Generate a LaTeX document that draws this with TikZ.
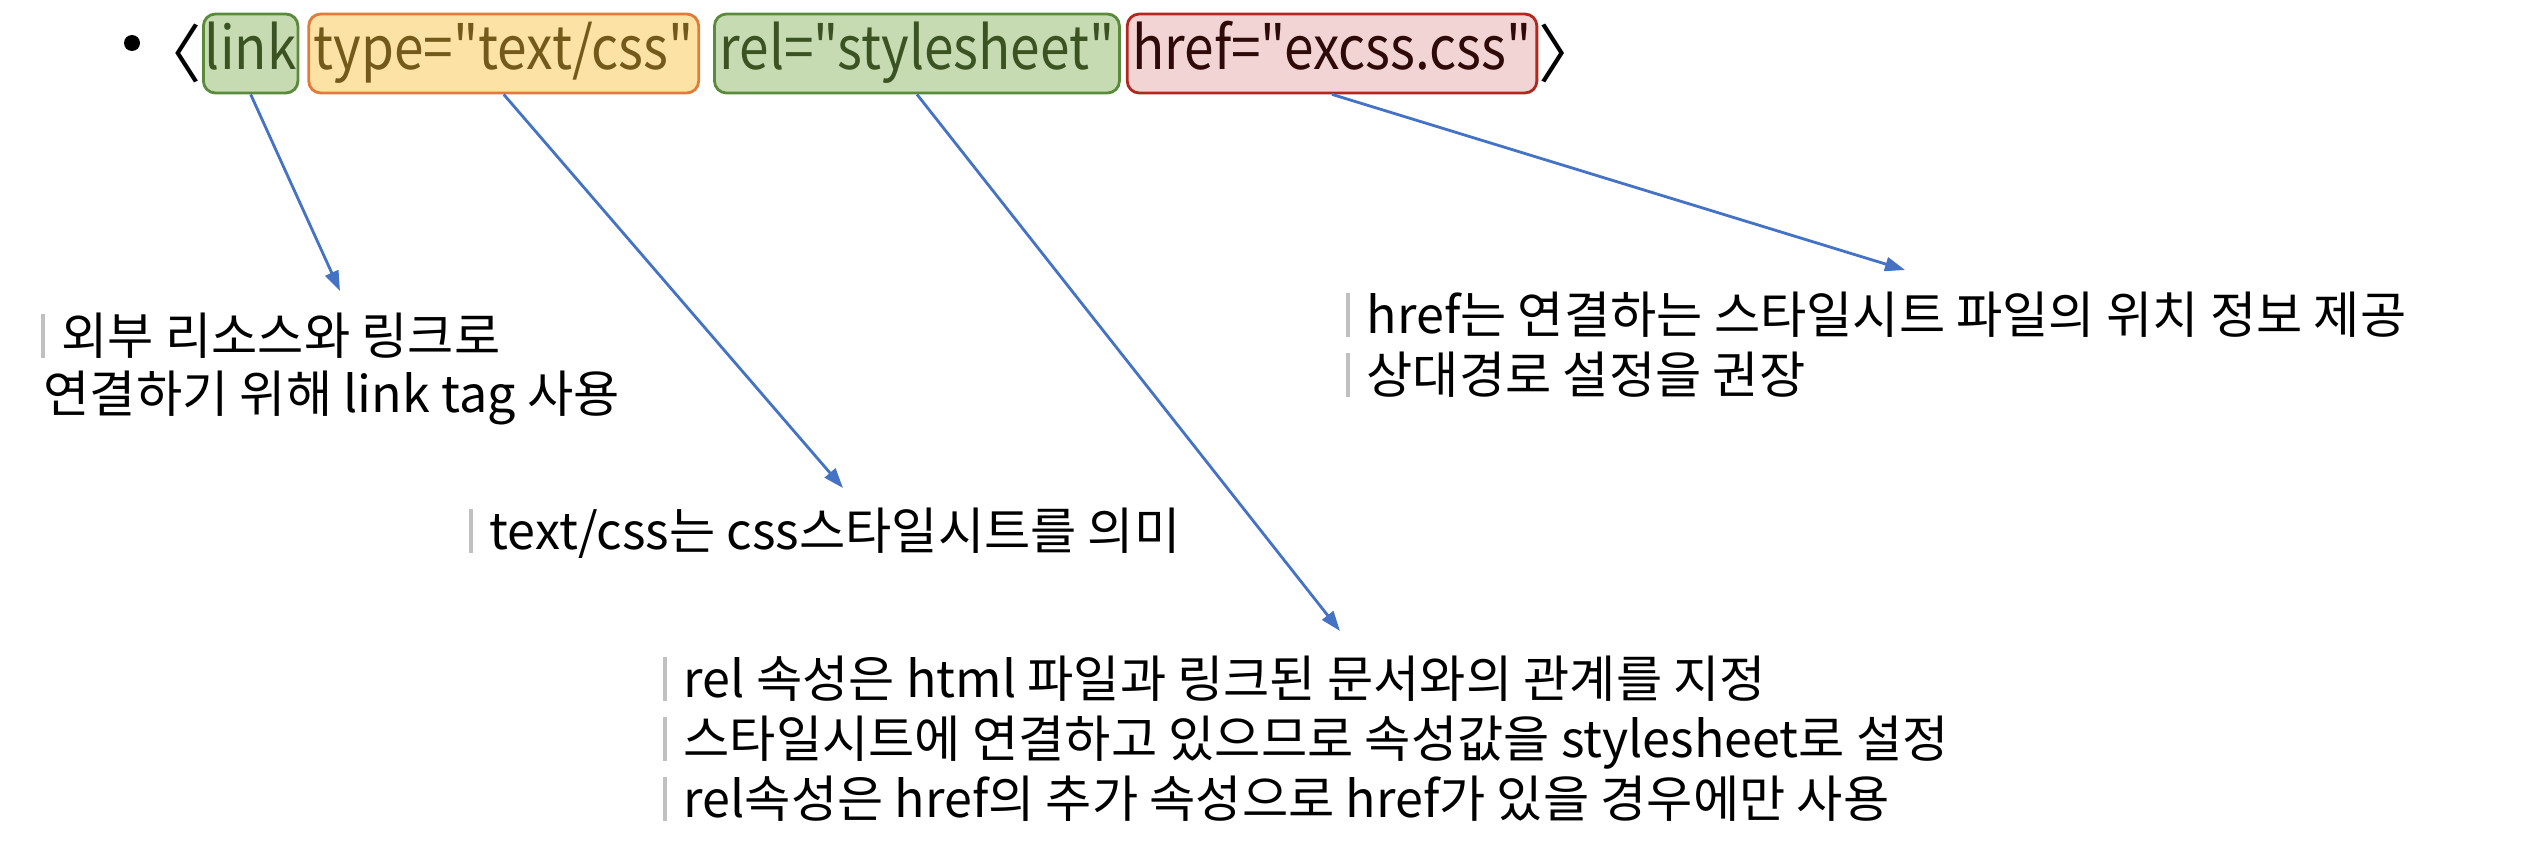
\documentclass[tikz,border=0pt]{standalone}
\usepackage{fontspec}
\setmainfont{Noto Sans CJK KR}[Ligatures=TeXOff]
\newfontfamily\tagfont{Noto Sans CJK KR}[FakeStretch=0.89,Ligatures=TeXOff]
\usetikzlibrary{arrows.meta,positioning}

\definecolor{greenFill}{HTML}{C6DBB2}
\definecolor{greenLine}{HTML}{5B8A3C}
\definecolor{greenText}{HTML}{3B5323}
\definecolor{yellowFill}{HTML}{FCE3A5}
\definecolor{orangeLine}{HTML}{E07B39}
\definecolor{yellowText}{HTML}{735A1B}
\definecolor{pinkFill}{HTML}{F1D4D3}
\definecolor{redLine}{HTML}{B22820}
\definecolor{redText}{HTML}{2E0A08}
\definecolor{arrowBlue}{HTML}{4472C4}
\definecolor{barGray}{HTML}{C0C0C0}

\newcommand{\gbar}{{\color{barGray}\rule[-0.04cm]{0.04cm}{0.44cm}}\hspace{0.17cm}}

\begin{document}
\begin{tikzpicture}[
	tagbox/.style={rounded corners=0.12cm, line width=0.8pt, inner xsep=0.05cm, inner ysep=0.08cm,
		text height=0.47cm, text depth=0.16cm, font=\tagfont\fontsize{17}{20}\selectfont},
	greenbox/.style={draw=greenLine, fill=greenFill, text=greenText},
	yellowbox/.style={draw=orangeLine, fill=yellowFill, text=yellowText},
	redbox/.style={draw=redLine, fill=pinkFill, text=redText},
	bracket/.style={inner sep=0pt, font=\fontsize{18}{21}\selectfont},
	note/.style={anchor=base west, inner sep=0pt, font=\fontsize{14.3}{17}\selectfont},
	pointer/.style={draw=arrowBlue, line width=0.8pt, -{Triangle[length=0.2cm,width=0.14cm]}}]
	\useasboundingbox (0,0) rectangle (25.38,-8.66);

	\node[circle, fill, inner sep=0pt, minimum size=0.16cm] (dot) at (1.32,-0.43) {};
	\node[tagbox, greenbox, inner xsep=0.015cm, anchor=west] (link) at (2.02,-0.535) {link};
	\node[tagbox, yellowbox, right=0.08cm of link] (type) {type="text/css"};
	\node[tagbox, greenbox, right=0.13cm of type] (rel) {rel="stylesheet"};
	\node[tagbox, redbox, right=0.05cm of rel] (href) {href="excss.css"};
	\node[bracket, left=0pt of link] (lt) {〈};
	\node[bracket, right=0pt of href] (gt) {〉};

	\node[note] (ext1) at (0.40,-3.54) {\gbar 외부 리소스와 링크로};
	\node[note] (ext2) at (0.43,-4.12) {연결하기 위해 link tag 사용};
	\node[note] (href1) at (13.45,-3.33) {\gbar href는 연결하는 스타일시트 파일의 위치 정보 제공};
	\node[note] (href2) at (13.45,-3.93) {\gbar 상대경로 설정을 권장};
	\node[note] (css1) at (4.68,-5.49) {\gbar text/css는 css스타일시트를 의미};
	\node[note] (rel1) at (6.62,-6.97) {\gbar rel 속성은 html 파일과 링크된 문서와의 관계를 지정};
	\node[note] (rel2) at (6.62,-7.57) {\gbar 스타일시트에 연결하고 있으므로 속성값을 stylesheet로 설정};
	\node[note] (rel3) at (6.62,-8.17) {\gbar rel속성은 href의 추가 속성으로 href가 있을 경우에만 사용};

	\coordinate (linkend) at (3.40,-2.91);
	\coordinate (typeend) at (8.43,-4.88);
	\coordinate (relend) at (13.40,-6.31);
	\coordinate (hrefend) at (19.05,-2.70);

	\draw[pointer] (link.south) -- (linkend);
	\draw[pointer] (type.south) -- (typeend);
	\draw[pointer] (rel.south) -- (relend);
	\draw[pointer] (href.south) -- (hrefend);
\end{tikzpicture}
\end{document}
